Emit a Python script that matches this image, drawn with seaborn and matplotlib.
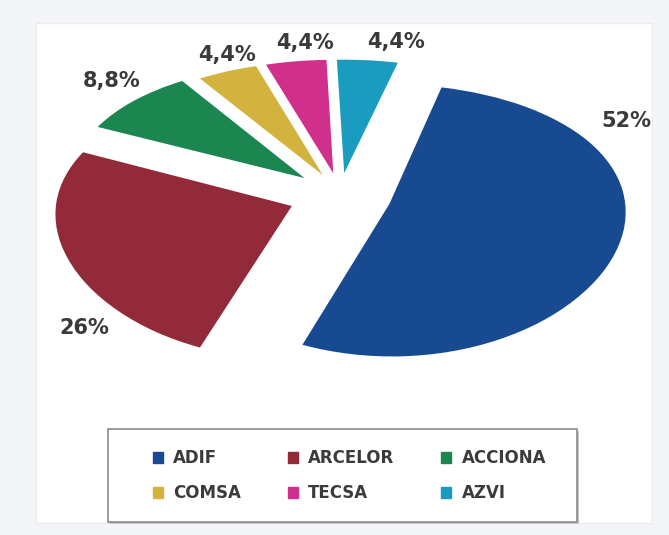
import numpy as np
import matplotlib
matplotlib.use("Agg")
import matplotlib.pyplot as plt
import matplotlib.patches as mpatches
import matplotlib.transforms as mtransforms
import seaborn as sns

# -------------------------------------------------------
# Data
# -------------------------------------------------------
companies = ["ADIF", "ARCELOR", "ACCIONA", "COMSA", "TECSA", "AZVI"]
shares = [52, 26, 8.8, 4.4, 4.4, 4.4]
share_labels = ["52%", "26%", "8,8%", "4,4%", "4,4%", "4,4%"]

# -------------------------------------------------------
# Style / layout
# -------------------------------------------------------
palette = sns.color_palette(["#184a92", "#922a3a", "#1b8650",
                             "#d3b23e", "#d0308a", "#1a9cc0"])
explode = [0.22, 0.22, 0.2, 0.17, 0.17, 0.17]
label_xy = [(1.22, 0.56), (-1.09, -1.01), (-0.97, 0.86),
            (-0.48, 1.06), (-0.15, 1.15), (0.24, 1.16)]

W, H = 669, 535
CX, CY, RX, RY = 340, 195, 235, 132   # pie centre / radii in pixels
TILT_X, TILT_Y = 0.05, 0.12           # perspective strength


class Tilt(mtransforms.Transform):
    """Simple perspective: far side (y > 0) shrinks, near side grows."""
    input_dims = output_dims = 2

    def __init__(self, kx, ky):
        super().__init__()
        self.kx, self.ky = kx, ky

    def transform_non_affine(self, values):
        v = np.asarray(values, dtype=float)
        sx = 1.0 / (1.0 + self.kx * v[:, 1])
        sy = 1.0 / (1.0 + self.ky * v[:, 1])
        return np.column_stack([v[:, 0] * sx, v[:, 1] * sy])


sns.set_theme(style="white")
plt.rcParams["font.family"] = ["DejaVu Sans"]

fig = plt.figure(figsize=(W / 100, H / 100), dpi=100)
fig.patch.set_facecolor("#f4f5f8")
fig.patches.append(mpatches.Rectangle((36 / W, 12 / H), 616 / W, 500 / H,
                                      transform=fig.transFigure,
                                      facecolor="white", edgecolor="#ebebef",
                                      lw=1, zorder=-5))

ax = fig.add_axes([0, 0, 1, 1])
ax.set_facecolor("none")
ax.set_zorder(1)

wedges, _ = ax.pie(shares, colors=palette, explode=explode,
                   startangle=76, counterclock=False,
                   wedgeprops=dict(linewidth=0))
tilt = Tilt(TILT_X, TILT_Y)
for w in wedges:
    w.set_transform(tilt + ax.transData)

ax.set_aspect("auto")
ax.set_xlim(-CX / RX, (W - CX) / RX)
ax.set_ylim((CY - H) / RY, CY / RY)
ax.axis("off")

for (x, y), txt in zip(label_xy, share_labels):
    ax.text(x, y, txt, ha="center", va="center", fontsize=15,
            fontweight="bold", color="#3a3a3a")

# -------------------------------------------------------
# Legend (box drawn separately to control padding)
# -------------------------------------------------------
fig.patches.append(mpatches.Rectangle((110 / W, 11 / H), 469 / W, 93 / H,
                                      transform=fig.transFigure,
                                      facecolor="#c9c9c9", edgecolor="none",
                                      zorder=2))
fig.patches.append(mpatches.Rectangle((108 / W, 13 / H), 469 / W, 93 / H,
                                      transform=fig.transFigure,
                                      facecolor="white", edgecolor="#8a8a8a",
                                      lw=1.2, zorder=3))

handles = [mpatches.Patch(color=c, label=n) for c, n in zip(palette, companies)]
order = [0, 3, 1, 4, 2, 5]
leg = fig.legend([handles[i] for i in order], [companies[i] for i in order],
                 ncol=3, frameon=False, loc="upper left",
                 bbox_to_anchor=(153 / W, 1 - 449 / H),
                 borderpad=0, borderaxespad=0,
                 handlelength=0.62, handleheight=0.62, handletextpad=0.6,
                 columnspacing=2.8, labelspacing=1.05,
                 prop=dict(size=12, weight="bold"))
for t in leg.get_texts():
    t.set_color("#3b3b3b")
leg.set_zorder(4)

plt.savefig("out.png", dpi=100, facecolor=fig.get_facecolor())
